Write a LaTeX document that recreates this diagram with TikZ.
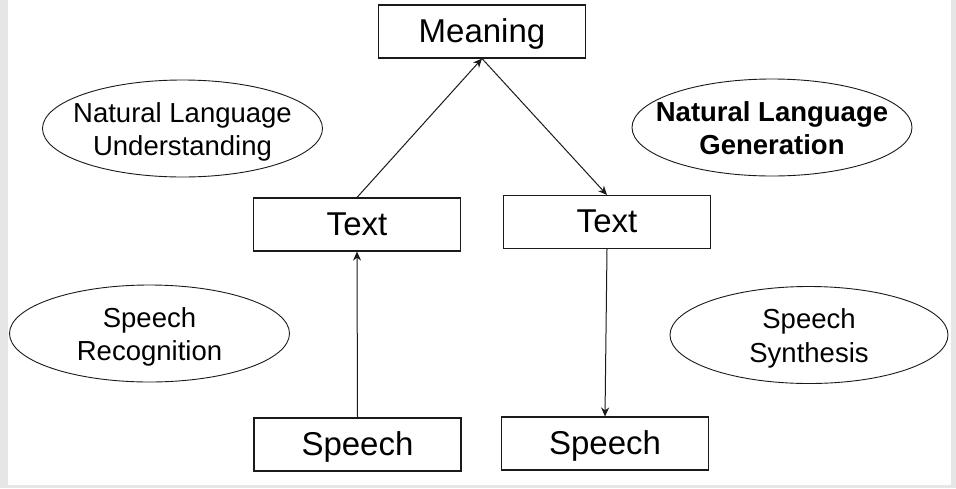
\documentclass[tikz,border=0pt]{standalone}
\usepackage{fontspec}
\setmainfont{Liberation Sans}
\usetikzlibrary{shapes.geometric,arrows.meta}
\definecolor{framegray}{HTML}{E6E6E6}
\definecolor{ink}{HTML}{1A1A1A}
\begin{document}
\begin{tikzpicture}[x=1pt,y=-1pt,
  box/.style={draw=ink,line width=1.1pt,rectangle,minimum width=207pt,minimum height=53pt,
    inner sep=0pt,text height=23pt,text depth=2pt,font=\fontsize{33}{38}\selectfont},
  oval/.style={draw=ink,line width=0.9pt,ellipse,minimum width=280pt,minimum height=97pt,
    inner xsep=-30pt,inner ysep=-10pt,align=center,text height=54pt,text depth=0pt,
    font=\fontsize{27.5}{33.5}\selectfont},
  conn/.style={draw=ink,line width=1pt,-{Stealth[length=9pt,width=8pt]}}]
\fill[framegray] (0,0) rectangle (956,488);
\fill[white] (8,0) rectangle (951,485);
\useasboundingbox (0,0) rectangle (956,488);
\node[box] (meaning) at (482,31.5) {Meaning};
\node[box] (ltext) at (357,224.5) {Text};
\node[box] (rtext) at (607,222) {Text};
\node[box] (lspeech) at (357.5,444.5) {Speech};
\node[box] (rspeech) at (605,443.5) {Speech};
\node[oval] (nlu) at (182.5,128.5) {Natural Language\\Understanding};
\node[oval,font=\fontsize{27.5}{33.5}\selectfont\bfseries] (nlg) at (772,127.5) {Natural Language\\Generation};
\node[oval] (sr) at (149.5,333.5) {Speech\\Recognition};
\node[oval,minimum width=278pt] (ss) at (809,335) {Speech\\Synthesis};
\draw[conn] (lspeech.north) -- (ltext.south);
\draw[conn] (ltext.north) -- (meaning.south);
\draw[conn] (meaning.south) -- (rtext.north);
\draw[conn] (rtext.south) -- (rspeech.north);
\end{tikzpicture}
\end{document}
